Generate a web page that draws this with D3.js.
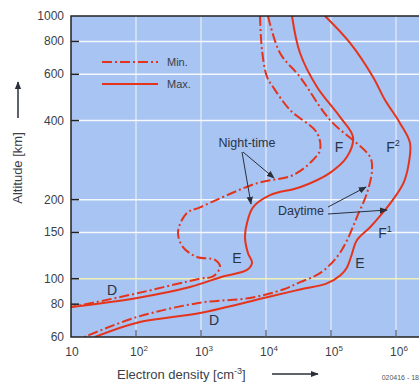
<!DOCTYPE html>
<html>
<head>
<meta charset="utf-8">
<script src="https://cdn.jsdelivr.net/npm/d3@7"></script>
<style>
  body { margin: 0; background: #fff; }
  svg { display: block; font-family: "Liberation Sans", Arial, sans-serif; }
</style>
</head>
<body>
<svg width="419" height="384"></svg>
<script>
// profiles: [electron density cm^-3, altitude km]
const nightMin = [
  [8090, 1000], [8670, 743], [10360, 586], [12820, 537], [23390, 439],
  [60950, 359], [67800, 309], [52840, 283], [26020, 248], [7270, 231],
  [966, 187], [609, 178], [443, 151], [528, 132], [868, 121], [1642, 118],
  [1960, 111], [1531, 102], [966, 100], [104, 88], [21.8, 81], [10, 78]
];
const nightMax = [
  [25120, 1000], [33360, 723], [60950, 537], [137400, 413], [217800, 346],
  [176300, 291], [96590, 253], [33360, 223], [11530, 208], [6310, 187],
  [5100, 163], [4750, 144], [5290, 125], [6090, 115], [5100, 108],
  [2180, 102], [677, 93], [104, 84.5], [10, 78]
];
const dayMin = [
  [10740, 1000], [16410, 723], [33360, 586], [96590, 402], [398100, 291],
  [427400, 259], [358100, 212], [251200, 172], [176300, 140], [123600, 121],
  [67800, 105], [33360, 97], [18270, 91], [5670, 84.5], [966, 81],
  [104, 71.5], [16, 60]
];
const dayMax = [
  [80860, 1000], [196000, 790], [442800, 586], [677600, 479], [1153000, 391],
  [1641000, 329], [1560000, 272], [1300000, 231], [900000, 200], [600000, 176],
  [400000, 157], [250000, 140], [205000, 122], [175000, 110], [140000, 103],
  [86650, 96], [33360, 91], [10360, 85], [966, 74], [104, 68], [23.4, 60]
];

const yTicks = [60, 80, 100, 150, 200, 400, 600, 800, 1000];
const yGrid = [150, 200, 400, 600, 800];
const xTicks = [10, 1e2, 1e3, 1e4, 1e5, 1e6];

const svg = d3.select("svg");
const mLeft = 71, mRight = 419, mTop = 16, mBottom = 337;

const x = d3.scaleLog().domain([10, 1e6]).range([mLeft, 396]);
const y = d3.scaleLog().domain([60, 1000]).range([mBottom, mTop]);

const red = "#e4341c";
const ink = "#3a3f4a";

// plot background
svg.append("rect")
  .attr("x", mLeft).attr("y", mTop)
  .attr("width", mRight - mLeft).attr("height", mBottom - mTop)
  .attr("fill", "#a7c4f3");

// grid
svg.append("g").selectAll("line")
  .data(xTicks.slice(1))
  .join("line")
  .attr("x1", d => x(d)).attr("x2", d => x(d))
  .attr("y1", mTop).attr("y2", mBottom)
  .attr("stroke", "#dbe6f6").attr("stroke-width", 1.5);

svg.append("g").selectAll("line")
  .data(yGrid)
  .join("line")
  .attr("x1", mLeft).attr("x2", mRight)
  .attr("y1", d => y(d)).attr("y2", d => y(d))
  .attr("stroke", "#f4f7fc").attr("stroke-width", 1.5);

svg.append("line")
  .attr("x1", mLeft).attr("x2", mRight)
  .attr("y1", y(100)).attr("y2", y(100))
  .attr("stroke", "#eef0b8").attr("stroke-width", 1.5);

// curves
const line = d3.line()
  .x(d => x(d[0]))
  .y(d => y(d[1]))
  .curve(d3.curveCatmullRom.alpha(0.5));

svg.append("clipPath").attr("id", "plot")
  .append("rect").attr("x", mLeft).attr("y", mTop)
  .attr("width", mRight - mLeft).attr("height", mBottom - mTop);

const curves = svg.append("g").attr("clip-path", "url(#plot)");
[[nightMin, true], [nightMax, false], [dayMin, true], [dayMax, false]].forEach(([data, dashed]) => {
  curves.append("path")
    .attr("d", line(data))
    .attr("fill", "none")
    .attr("stroke", red)
    .attr("stroke-width", 2)
    .attr("stroke-dasharray", dashed ? "10,3,2,3" : null);
});

// frame
svg.append("path")
  .attr("d", `M${mRight},${mTop}H${mLeft}V${mBottom}H${mRight}`)
  .attr("fill", "none").attr("stroke", "#222").attr("stroke-width", 1.5);

// y ticks
svg.append("g").selectAll("line")
  .data(yTicks.slice(1, -1))
  .join("line")
  .attr("x1", mLeft).attr("x2", mLeft + 8)
  .attr("y1", d => y(d)).attr("y2", d => y(d))
  .attr("stroke", "#222").attr("stroke-width", 1.5);

svg.append("g").selectAll("text")
  .data(yTicks)
  .join("text")
  .attr("x", 64)
  .attr("y", d => y(d) + 4)
  .attr("text-anchor", "end")
  .attr("font-size", 12)
  .attr("fill", ink)
  .text(d => d);

// x ticks
svg.append("g").selectAll("line")
  .data(xTicks.slice(1))
  .join("line")
  .attr("x1", d => x(d)).attr("x2", d => x(d))
  .attr("y1", mBottom - 7).attr("y2", mBottom)
  .attr("stroke", "#556").attr("stroke-width", 1.2);

const xt = svg.append("g").selectAll("text")
  .data(xTicks)
  .join("text")
  .attr("x", d => x(d) + (d === 10 ? 1 : 3))
  .attr("y", 356)
  .attr("text-anchor", "middle")
  .attr("font-size", 12)
  .attr("fill", ink);
xt.append("tspan").text("10");
xt.filter(d => d > 10).append("tspan")
  .attr("dy", -5).attr("font-size", 8)
  .text(d => Math.round(Math.log10(d)));

// axis titles
svg.append("text")
  .attr("transform", "translate(22,168) rotate(-90)")
  .attr("text-anchor", "middle")
  .attr("font-size", 13)
  .attr("fill", ink)
  .text("Altitude [km]");

const xl = svg.append("text")
  .attr("x", 117).attr("y", 379)
  .attr("font-size", 13)
  .attr("fill", ink);
xl.append("tspan").text("Electron density [cm");
xl.append("tspan").attr("dy", -5).attr("font-size", 9).text("-3");
xl.append("tspan").attr("dy", 5).text("]");

svg.append("defs").append("marker")
  .attr("id", "head").attr("viewBox", "0 0 10 10")
  .attr("refX", 9).attr("refY", 5)
  .attr("markerWidth", 8).attr("markerHeight", 8)
  .attr("markerUnits", "userSpaceOnUse")
  .attr("orient", "auto")
  .append("path").attr("d", "M0,1L10,5L0,9Z").attr("fill", "#2a2f3a");

function arrow(x1, y1, x2, y2, w) {
  svg.append("line")
    .attr("x1", x1).attr("y1", y1).attr("x2", x2).attr("y2", y2)
    .attr("stroke", "#2a2f3a").attr("stroke-width", w || 1)
    .attr("marker-end", "url(#head)");
}

arrow(272, 374, 318, 374, 1.5);
arrow(18, 118, 18, 82, 1.5);

svg.append("text")
  .attr("x", 419).attr("y", 380)
  .attr("text-anchor", "end")
  .attr("font-size", 7)
  .attr("fill", "#555")
  .text("020416 - 18");

// legend
svg.append("line")
  .attr("x1", 102).attr("x2", 158).attr("y1", 62).attr("y2", 62)
  .attr("stroke", red).attr("stroke-width", 2).attr("stroke-dasharray", "10,3,2,3");
svg.append("line")
  .attr("x1", 102).attr("x2", 158).attr("y1", 84).attr("y2", 84)
  .attr("stroke", red).attr("stroke-width", 2);
svg.append("text").attr("x", 167).attr("y", 66)
  .attr("font-size", 11).attr("fill", ink).text("Min.");
svg.append("text").attr("x", 167).attr("y", 88)
  .attr("font-size", 11).attr("fill", ink).text("Max.");

// layer labels
const layers = [
  ["D", 112, 295], ["D", 214, 325], ["E", 237, 263], ["E", 360, 268],
  ["F", 339, 152], ["F", 393, 152, "2"], ["F", 385, 238, "1"]
];
layers.forEach(([t, lx, ly, sup]) => {
  const tx = svg.append("text")
    .attr("x", lx).attr("y", ly)
    .attr("text-anchor", "middle")
    .attr("font-size", 14)
    .attr("fill", "#2b3244");
  tx.append("tspan").text(t);
  if (sup) tx.append("tspan").attr("dy", -6).attr("font-size", 9).text(sup);
});

// annotations
svg.append("text").attr("x", 247).attr("y", 147)
  .attr("text-anchor", "middle").attr("font-size", 12.5)
  .attr("fill", "#2b3244").text("Night-time");
svg.append("text").attr("x", 301).attr("y", 215)
  .attr("text-anchor", "middle").attr("font-size", 12.5)
  .attr("fill", "#2b3244").text("Daytime");

arrow(243, 152, 274, 178);
arrow(242, 152, 251, 204);
arrow(328, 207, 366, 187);
arrow(328, 214, 387, 210);
</script>
</body>
</html>
